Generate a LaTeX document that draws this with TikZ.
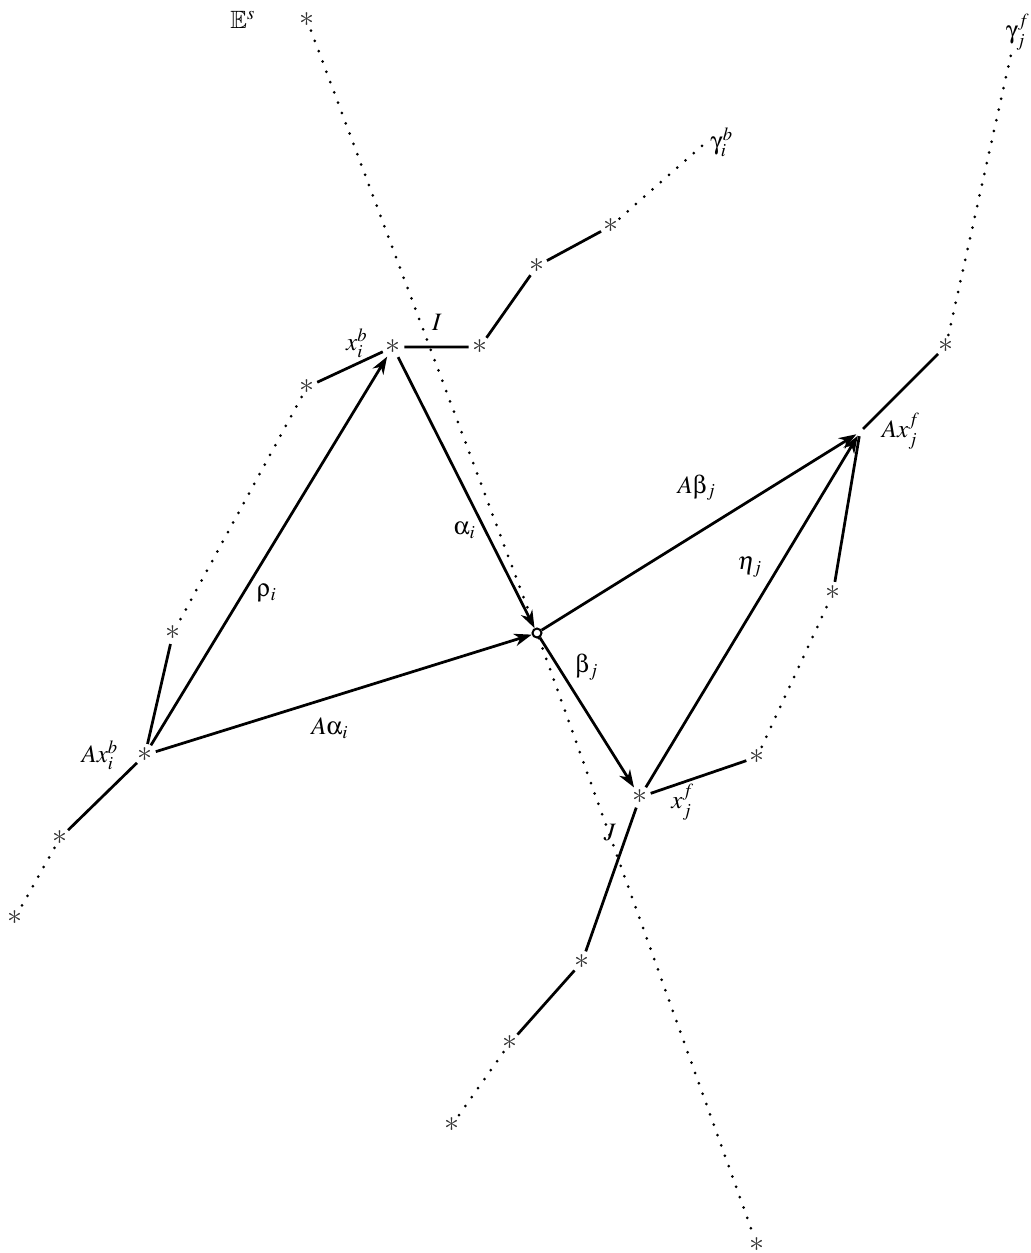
\documentclass[tikz,border=0pt]{standalone}
\usepackage{mathptmx}
\usepackage{amssymb}
\usepackage[Symbol]{upgreek}
\usetikzlibrary{arrows.meta}
\begin{document}
\begin{tikzpicture}[x=0.4pt,y=-0.4pt,
  pt/.style={inner sep=0.3pt,outer sep=0pt,circle,font=\large,text=black!80,minimum size=5pt},
  seg/.style={line width=1.1pt},
  dots/.style={line width=1.2pt,line cap=round,dash pattern=on 0pt off 4.4pt},
  arr/.style={line width=1.1pt,-{Stealth[length=7pt,width=5pt,inset=2.2pt]}},
  lab/.style={inner sep=0pt}]
\useasboundingbox (0,0) rectangle (1031,1253);
% points
\node[pt] (Es) at (307,20) {$\ast$};
\node[pt] (Eend) at (757,1245) {$\ast$};
\node[pt] (xib) at (393,347) {$\ast$};
\node[pt] (p1) at (480,347) {$\ast$};
\node[pt] (p2) at (537,266) {$\ast$};
\node[pt] (p3) at (611,226) {$\ast$};
\coordinate (gib) at (703,145);
\node[pt] (q1) at (307,387) {$\ast$};
\node[pt] (q2) at (173,633) {$\ast$};
\node[pt] (Axib) at (145,755) {$\ast$};
\node[pt] (r1) at (60,838) {$\ast$};
\node[pt] (r2) at (15,918) {$\ast$};
\node[circle,draw,line width=0.8pt,inner sep=0pt,minimum size=3.6pt] (c) at (537,633) {};
\node[pt] (xjf) at (640,797) {$\ast$};
\node[pt] (s1) at (757,757) {$\ast$};
\node[pt] (s2) at (833,593) {$\ast$};
\node[circle,inner sep=0pt,minimum size=3pt] (Axjf) at (860,432) {};
\node[pt] (t1) at (946,346) {$\ast$};
\coordinate (gjf) at (1012,50);
\node[pt] (u1) at (582,962) {$\ast$};
\node[pt] (u2) at (510,1043) {$\ast$};
\node[pt] (u3) at (452,1125) {$\ast$};
% E^s line
\draw[dots] (Es) -- (c) -- (Eend);
% trajectories
\draw[seg] (xib) -- (p1) -- (p2) -- (p3);
\draw[dots] (p3) -- (gib);
\draw[seg] (xib) -- (q1);
\draw[dots] (q1) -- (q2);
\draw[seg] (q2) -- (Axib);
\draw[seg] (Axib) -- (r1);
\draw[dots] (r1) -- (r2);
\draw[seg] (xjf) -- (s1);
\draw[dots] (s1) -- (s2);
\draw[seg] (s2) -- (Axjf);
\draw[seg] (Axjf) -- (t1);
\draw[dots] (t1) -- (gjf);
\draw[seg] (xjf) -- (u1) -- (u2);
\draw[dots] (u2) -- (u3);
% arrows
\draw[arr] (Axib) -- (xib);
\draw[arr] (Axib) -- (c);
\draw[arr] (xib) -- (c);
\draw[arr] (c) -- (Axjf);
\draw[arr] (c) -- (xjf);
\draw[arr] (xjf) -- (Axjf);
% labels
\node[lab] (lEs) at (243,20) {$\mathbb{E}^s$};
\node[lab] (lI) at (437,322) {$I$};
\node[lab] (lJ) at (610,833) {$J$};
\node[lab] (lxib) at (357,343) {$x_i^b$};
\node[lab] (lgib) at (722,142) {$\upgamma_i^b$};
\node[lab] (lgjf) at (1018,32) {$\upgamma_j^f$};
\node[lab] (lAxjf) at (901,431) {$Ax_j^f$};
\node[lab] (lAxib) at (100,755) {$Ax_i^b$};
\node[lab] (lxjf) at (683,802) {$x_j^f$};
\node[lab] (lbj) at (587,667) {$\upbeta_j$};
\node[lab] (lAbj) at (697,488) {$A\upbeta_j$};
\node[lab] (lej) at (750,567) {$\eta_j$};
\node[lab] (lri) at (267,593) {$\uprho_i$};
\node[lab] (lai) at (465,530) {$\upalpha_i$};
\node[lab] (lAai) at (330,728) {$A\upalpha_i$};
\end{tikzpicture}
\end{document}
